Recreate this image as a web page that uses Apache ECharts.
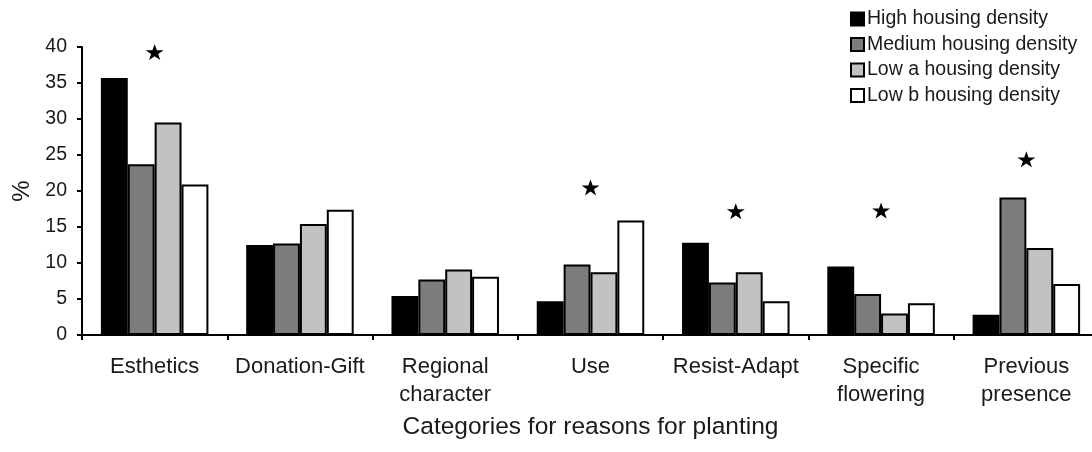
<!DOCTYPE html>
<html>
<head>
<meta charset="utf-8">
<script src="https://cdn.jsdelivr.net/npm/echarts@6/dist/echarts.min.js"></script>
<style>html,body{margin:0;padding:0;background:#fff}#c{width:1092px;height:452px}</style>
</head>
<body>
<div id="c"></div>
<script>
var categories = ['Esthetics', 'Donation-Gift', 'Regional\ncharacter', 'Use', 'Resist-Adapt', 'Specific\nflowering', 'Previous\npresence'];
var seriesNames = ['High housing density', 'Medium housing density', 'Low a housing density', 'Low b housing density'];
var highDensity = [35.7, 12.5, 5.4, 4.7, 12.8, 9.5, 2.8];
var mediumDensity = [23.7, 12.7, 7.7, 9.8, 7.3, 5.7, 19.1];
var lowADensity = [29.5, 15.4, 9.1, 8.7, 8.7, 3.0, 12.1];
var lowBDensity = [20.9, 17.4, 8.1, 15.9, 4.7, 4.4, 7.1];
var starMarks = [['Esthetics', 39.3], ['Use', 20.5], ['Resist-Adapt', 17.2], ['Specific\nflowering', 17.3], ['Previous\npresence', 24.4]];
var yTicks = [0, 5, 10, 15, 20, 25, 30, 35, 40];

var fills = ['#000000', '#7c7c7c', '#c2c2c2', '#ffffff'];
var values = [highDensity, mediumDensity, lowADensity, lowBDensity];
var font = "'Liberation Sans', Arial, sans-serif";
var txt = '#1a1a1a';

var barSeries = seriesNames.map(function (n, i) {
  return {
    name: n, type: 'bar', data: values[i],
    barGap: '0%', barCategoryGap: '26%',
    itemStyle: { color: fills[i], borderColor: '#000', borderWidth: 2 }
  };
});
barSeries.push({
  name: 'significant', type: 'scatter', data: starMarks,
  symbol: 'path://M50,0 L61.8,35.4 L99,35.4 L69,57.3 L80.4,92.7 L50,70.8 L19.6,92.7 L31,57.3 L1,35.4 L38.2,35.4 Z',
  symbolSize: [18, 16], itemStyle: { color: '#000', opacity: 1 }, silent: true, z: 5
});

var chart = echarts.init(document.getElementById('c'), null, { renderer: 'canvas' });
chart.setOption({
  animation: false,
  backgroundColor: '#fff',
  textStyle: { fontFamily: font },
  legend: {
    data: seriesNames.map(function (n) { return { name: n, icon: 'rect' }; }),
    orient: 'vertical', left: 845, top: 4,
    itemWidth: 13, itemHeight: 13, itemGap: 5.5,
    textStyle: { fontSize: 19.5, color: txt, fontFamily: font, padding: [0, 0, 0, -2] },
    selectedMode: false
  },
  grid: { left: 82, top: 47, width: 1017, height: 288, containLabel: false, outerBoundsMode: 'none' },
  xAxis: {
    type: 'category', data: categories, boundaryGap: true,
    name: 'Categories for reasons for planting', nameLocation: 'middle', nameGap: 80,
    nameTextStyle: { fontSize: 24.5, color: txt, fontFamily: font },
    axisLine: { lineStyle: { color: '#000', width: 2 } },
    axisTick: { show: true, interval: 0, length: 5, lineStyle: { color: '#000', width: 2 } },
    axisLabel: { interval: 0, fontSize: 22, lineHeight: 28, color: txt, margin: 18, fontFamily: font }
  },
  yAxis: {
    type: 'value', min: yTicks[0], max: yTicks[yTicks.length - 1], interval: 5,
    name: '%', nameLocation: 'middle', nameGap: 45, nameRotate: 90,
    nameTextStyle: { fontSize: 24, color: txt, fontFamily: font },
    axisLine: { show: true, lineStyle: { color: '#000', width: 2 } },
    axisTick: { show: true, length: 5, lineStyle: { color: '#000', width: 2 } },
    splitLine: { show: false },
    axisLabel: { fontSize: 19.5, color: txt, margin: 15, fontFamily: font }
  },
  series: barSeries
});
</script>
</body>
</html>
